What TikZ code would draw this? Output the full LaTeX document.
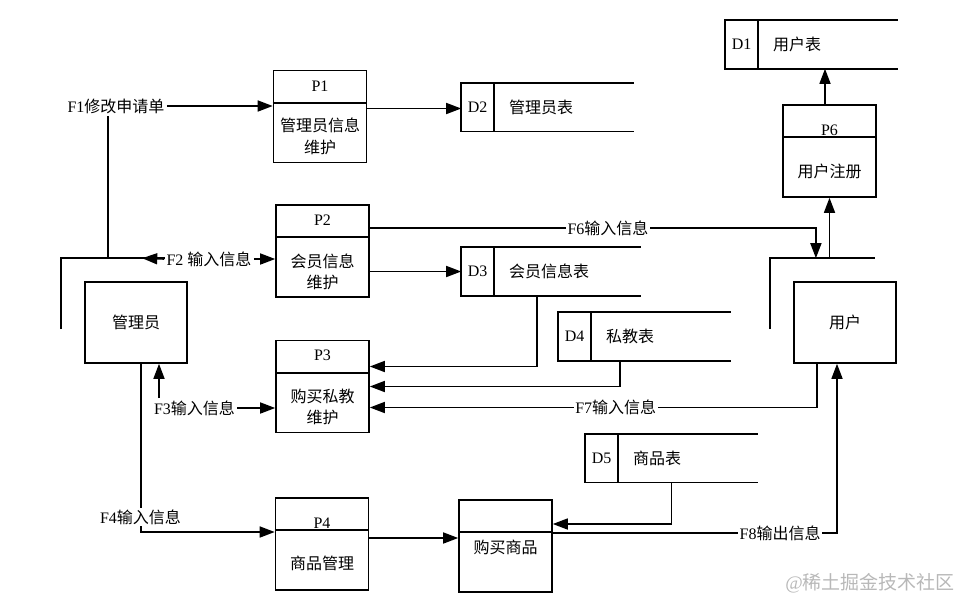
\documentclass[tikz,border=0pt]{standalone}
\usepackage{fontspec}
\setmainfont{Liberation Serif}
\newfontfamily\cjk{Noto Sans CJK SC}
\usetikzlibrary{arrows.meta}

\tikzset{
  procbox/.style={draw,minimum width=93pt,minimum height=92pt,inner sep=0pt},
  entity/.style={draw,minimum width=102pt,minimum height=81pt,inner sep=0pt},
  storebox/.style={minimum height=47pt,inner sep=0pt},
  flow/.style={-{Triangle[length=15pt,width=11pt]}},
  lbl/.style={fill=white,inner sep=1.5pt},
  zh/.style={font=\fontsize{16}{21.5}\selectfont\cjk},
}

\begin{document}
\begin{tikzpicture}[x=1pt,y=-1pt,line width=1.6pt,font=\fontsize{16}{21.5}\selectfont]

	\useasboundingbox (0,0) rectangle (957,600);

	% Processes
	\foreach \n/\x/\y/\ty/\t in {p1/320/116.5/86/P1, p2/322.5/251/220/P2, p3/322.5/386.5/355/P3, p4/322/544/523/P4, p6/829.5/151/130/P6}{
		\node[procbox] (\n) at (\x,\y) {};
		\draw ([yshift=-33pt]\n.north west) -- ([yshift=-33pt]\n.north east);
		\node (\n-t) at (\x,\ty) {\t};
	}
	\node[procbox] (buy) at (505.5,546) {};
	\draw ([yshift=-33pt]buy.north west) -- ([yshift=-33pt]buy.north east);

	\node[zh,align=center] (p1-b) at (320,136.5) {管理员信息\\维护};
	\node[zh,align=center] (p2-b) at (322.5,272) {会员信息\\维护};
	\node[zh,align=center] (p3-b) at (322.5,407) {购买私教\\维护};
	\node[zh] (p4-b) at (322,563) {商品管理};
	\node[zh] (p6-b) at (829.5,171) {用户注册};
	\node[zh] (buy-b) at (505.5,547) {购买商品};

	% Data stores
	\foreach \n/\x/\y/\w/\id/\t in {d1/811.5/44.5/171pt/D1/用户表, d2/547.5/107/171pt/D2/管理员表, d3/551/271.5/178pt/D3/会员信息表, d4/644.5/336.5/171pt/D4/私教表, d5/671.5/458/171pt/D5/商品表}{
		\node[storebox,minimum width=\w] (\n) at (\x,\y) {};
		\draw (\n.north east) -- (\n.north west) -- (\n.south west) -- (\n.south east);
		\draw ([xshift=33pt]\n.north west) -- ([xshift=33pt]\n.south west);
		\node (\n-id) at ([xshift=16.5pt]\n.west) {\id};
		\node[zh,anchor=west,inner sep=0pt] (\n-t) at ([xshift=47pt]\n.west) {\t};
	}

	% Entities
	\node[entity,zh] (admin) at (136,322.5) {管理员};
	\node[entity,zh] (usr) at (845,322.5) {用户};
	\coordinate (admc) at ([shift={(-23pt,23pt)}]admin.north west);
	\coordinate (usrc) at ([shift={(-23pt,23pt)}]usr.north west);
	\draw ([yshift=-71pt]admc) -- (admc) -- ([xshift=105pt]admc);
	\draw ([yshift=-71pt]usrc) -- (usrc) -- ([xshift=105pt]usrc);

	% Flows
	\coordinate (f1c) at ([xshift=47pt]admc);
	\node[lbl] (f1) at (116,106) {F1\cjk 修改申请单};
	\draw (f1c) -- (f1c |- f1.south);
	\draw[flow] (f1.east) -- (f1.east -| p1.west);
	\draw[flow] ([yshift=8pt]p1.east) -- ([yshift=8pt]p1.east -| d2.west);

	\node[lbl] (f2) at (209,259) {F2 \cjk 输入信息};
	\draw[flow] (f2.west) -- ([xshift=81pt]admc);
	\draw[flow] (f2.east) -- (f2.east -| p2.west);
	\draw[flow] (p2.east |- d3.west) -- (d3.west);

	\coordinate (f6end) at ([xshift=45.7pt]usrc);
	\draw[flow] ([yshift=23pt]p2.east) -| (f6end) node[lbl,pos=0.267] {F6\cjk 输入信息};
	\draw[flow] (p6.south |- usrc) -- (p6.south);
	\draw[flow] ([xshift=-4.5pt]p6.north) -- ([xshift=-4.5pt]p6.north |- d1.south);

	\draw[flow] ([xshift=-14pt]d3.south) |- ([yshift=20pt]p3.east);
	\draw[flow] ([xshift=-24.5pt]d4.south) |- (p3.east);
	\draw[flow] ([xshift=-28pt]usr.south) |- ([yshift=-21pt]p3.east) node[lbl,pos=0.725] {F7\cjk 输入信息};

	\node[lbl] (f3) at (194.5,408) {F3\cjk 输入信息};
	\draw[flow] ([xshift=23pt]admin.south |- f3.north) -- ([xshift=23pt]admin.south);
	\draw[flow] (f3.east) -- (f3.east -| p3.west);

	\draw[flow] ([xshift=5pt]admin.south) |- ([yshift=12pt]p4.west);
	\node[lbl] (f4) at (140.5,517) {F4\cjk 输入信息};
	\draw[flow] ([yshift=6pt]p4.east) -- ([yshift=6pt]p4.east -| buy.west);

	\draw[flow] (d5.south) |- ([yshift=22pt]buy.east);
	\draw[flow] ([yshift=13pt]buy.east) -| ([xshift=-8pt]usr.south) node[lbl,pos=0.4] {F8\cjk 输出信息};

	% Watermark
	\node[text=black!28] (wm) at (870,583) {\fontsize{19}{21}\selectfont @\cjk 稀土掘金技术社区};

\end{tikzpicture}
\end{document}
